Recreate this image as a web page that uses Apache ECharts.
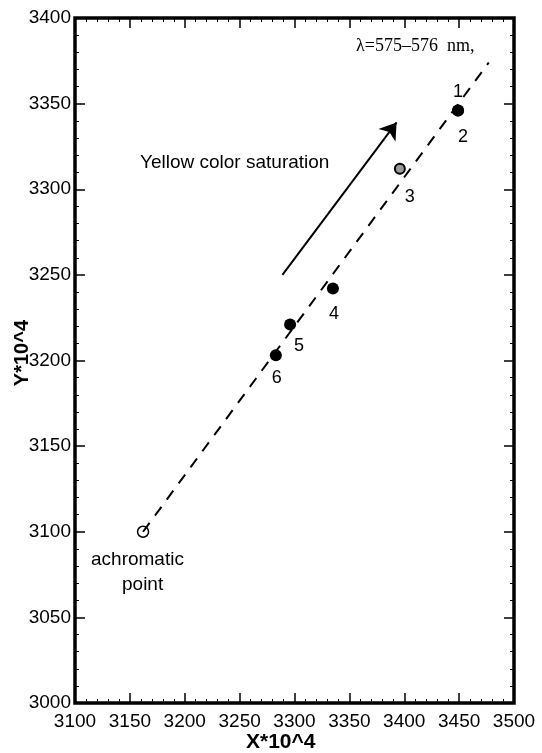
<!DOCTYPE html>
<html>
<head>
<meta charset="utf-8">
<script src="https://cdn.jsdelivr.net/npm/echarts@6/dist/echarts.min.js"></script>
<style>
  html, body { margin: 0; padding: 0; background: #fff; }
  #chart { width: 542px; height: 753px; }
</style>
</head>
<body>
<div id="chart"></div>
<script>
// measured points (X*10^4, Y*10^4)
const pointNames = ['1', '2', '3', '4', '5', '6'];
const pointX = [3449, 3449, 3396, 3335, 3296, 3283];
const pointY = [3346, 3346, 3312, 3242, 3221, 3203];
const achromatic = [3162, 3100];
const lineEnd = [3477, 3374];           // end of the dashed line
const arrowFrom = [3289, 3250];
const arrowTo = [3393, 3339];

const FONT = 'Liberation Sans, Arial, sans-serif';

// label offsets for the numbers next to each point
const labelOffsets = [[0, -18], [5, 27], [10, 28], [1, 25], [9, 21], [1, 23]];

const filled = [];
const hollow = [];
pointNames.forEach((n, i) => {
  const d = {
    value: [pointX[i], pointY[i]],
    label: { show: true, formatter: n, offset: labelOffsets[i] }
  };
  if (n === '3') hollow.push(d); else filled.push(d);
});

const chart = echarts.init(document.getElementById('chart'));

const tickAxis = {
  type: 'value',
  interval: 50,
  axisLine: { show: false },
  axisTick: { show: true, inside: true, length: 10, lineStyle: { color: '#000', width: 1.5 } },
  minorTick: { show: true, splitNumber: 5, length: 4, lineStyle: { color: '#000', width: 1 } },
  splitLine: { show: false },
  axisLabel: { show: false }
};
const tickLabel = { show: true, color: '#000', fontSize: 19, fontFamily: FONT, formatter: v => String(v) };

chart.setOption({
  animation: false,
  backgroundColor: '#fff',
  grid: {
    left: 75, right: 28, top: 18, bottom: 50,
    show: true, borderColor: '#000', borderWidth: 3.5, backgroundColor: 'transparent'
  },
  xAxis: [
    Object.assign({}, tickAxis, {
      min: 3100, max: 3500, position: 'bottom',
      axisLabel: Object.assign({}, tickLabel, { margin: 9 })
    }),
    Object.assign({}, tickAxis, { min: 3100, max: 3500, position: 'top' })
  ],
  yAxis: [
    Object.assign({}, tickAxis, {
      min: 3000, max: 3400, position: 'left',
      axisLabel: Object.assign({}, tickLabel, { margin: 4 })
    }),
    Object.assign({}, tickAxis, { min: 3000, max: 3400, position: 'right' })
  ],
  series: [
    {
      type: 'line',
      data: [achromatic, lineEnd],
      symbol: 'none',
      lineStyle: { color: '#000', width: 2, type: [11, 9] },
      silent: true
    },
    {
      type: 'scatter',
      data: [arrowFrom],
      symbolSize: 0,
      silent: true,
      markLine: {
        silent: true,
        symbol: ['none', 'arrow'],
        symbolSize: 16,
        label: { show: false },
        lineStyle: { color: '#000', width: 2, type: 'solid' },
        data: [[{ coord: arrowFrom }, { coord: arrowTo }]]
      }
    },
    {
      type: 'scatter',
      data: filled,
      symbolSize: 12,
      itemStyle: { color: '#000', opacity: 1 },
      label: { color: '#000', fontSize: 18, fontFamily: FONT }
    },
    {
      type: 'scatter',
      data: hollow,
      symbolSize: 10,
      itemStyle: { color: '#999', borderColor: '#000', borderWidth: 2, opacity: 1 },
      label: { color: '#000', fontSize: 18, fontFamily: FONT }
    },
    {
      type: 'scatter',
      data: [achromatic],
      symbolSize: 11,
      itemStyle: { color: '#fff', borderColor: '#000', borderWidth: 1.5, opacity: 1 }
    }
  ],
  graphic: [
    { type: 'text', left: 140, top: 153, style: { text: 'Yellow color saturation', fontSize: 19, fontFamily: FONT, fill: '#000' } },
    { type: 'text', left: 356, top: 37, style: { text: 'λ=575–576  nm,', fontSize: 18, fontFamily: 'Liberation Serif, serif', fill: '#000' } },
    { type: 'text', left: 91, top: 550, style: { text: 'achromatic', fontSize: 19, fontFamily: FONT, fill: '#000' } },
    { type: 'text', left: 122, top: 575, style: { text: 'point', fontSize: 19, fontFamily: FONT, fill: '#000' } },
    { type: 'text', left: 246, top: 732, style: { text: 'X*10^4', fontSize: 21, fontWeight: 'bold', fontFamily: FONT, fill: '#000' } },
    { type: 'text', left: 12, top: 320, rotation: Math.PI / 2, style: { text: 'Y*10^4', fontSize: 20, fontWeight: 'bold', fontFamily: FONT, fill: '#000' } }
  ]
});
</script>
</body>
</html>
